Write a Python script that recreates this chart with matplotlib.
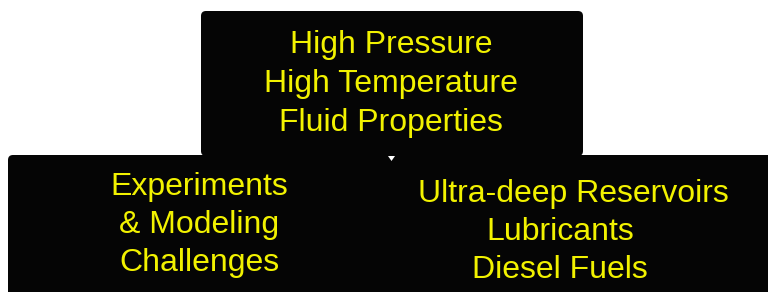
"""Three-box HPHT diagram: yellow text on black rounded panels."""
import matplotlib
matplotlib.use("Agg")
import matplotlib.pyplot as plt
from matplotlib.patches import FancyBboxPatch, Polygon

W, H = 768, 292

top_lines = ["High Pressure", "High Temperature", "Fluid Properties"]
left_lines = ["Experiments", "& Modeling", "Challenges"]
right_lines = ["Ultra-deep Reservoirs", "Lubricants", "Diesel Fuels"]

# text anchors (pixel x centre, baselines)
top_x, top_base = 391, [53, 92, 131]
left_x, left_base = 199, [195, 233, 271]
right_x, right_base = [573, 560, 560], [202, 240, 278]

BLACK = "#050505"
YELLOW = "#f2f200"

fig = plt.figure(figsize=(W / 100, H / 100), dpi=100)
ax = fig.add_axes([0, 0, 1, 1])
ax.set_xlim(0, W)
ax.set_ylim(H, 0)
ax.axis("off")

# bottom panel runs off the right and lower edges
ax.add_patch(FancyBboxPatch((8, 155), 800, 200,
                            boxstyle="round,pad=0,rounding_size=5",
                            fc=BLACK, ec="none"))
# top panel
ax.add_patch(FancyBboxPatch((201, 11), 382, 145,
                            boxstyle="round,pad=0,rounding_size=5",
                            fc=BLACK, ec="none"))
# tiny white marker where the panels meet
ax.add_patch(Polygon([(388, 156), (395, 156), (391.5, 161)], closed=True,
                     fc="white", ec="none"))

kw = dict(color=YELLOW, fontsize=23, family=["Liberation Sans", "DejaVu Sans"],
          ha="center", va="baseline")
for s, y in zip(top_lines, top_base):
    ax.text(top_x, y, s, **kw)
for s, y in zip(left_lines, left_base):
    ax.text(left_x, y, s, **kw)
for s, x, y in zip(right_lines, right_x, right_base):
    ax.text(x, y, s, **kw)

fig.savefig("out.png", dpi=100)
